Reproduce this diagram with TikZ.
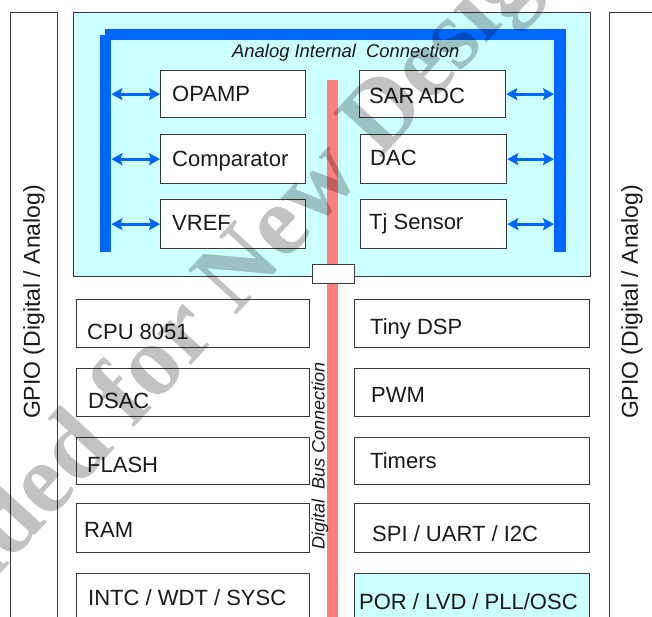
\documentclass[tikz,border=0pt]{standalone}
\usepackage{fontspec}
\setmainfont{Liberation Sans}
\newfontfamily\wmserif{Liberation Serif}
\usetikzlibrary{arrows.meta}
\definecolor{acyan}{HTML}{CCFFFF}
\definecolor{abus}{HTML}{0066FF}
\definecolor{dbus}{HTML}{FF7F7F}
\definecolor{edgec}{HTML}{3A3A3A}
\definecolor{txtc}{HTML}{1A1A1A}
\tikzset{
  box/.style={draw=edgec, line width=1.3pt, fill=white, inner sep=0pt, anchor=north west},
  cbox/.style={box, fill=acyan},
  busbar/.style={fill=abus, draw=none, inner sep=0pt, anchor=north west},
  redbar/.style={fill=dbus, draw=none, inner sep=0pt, anchor=north west},
  lbl/.style={anchor=base west, inner sep=0pt, text=txtc, font=\fontsize{22}{26}\selectfont},
  vlbl/.style={rotate=90, inner sep=0pt, text=txtc, font=\fontsize{23}{27}\selectfont},
  barrow/.style={abus, line width=3pt, {Stealth[length=11pt,width=12pt,inset=2pt]}-{Stealth[length=11pt,width=12pt,inset=2pt]}},
  wmark/.style={rotate=47.5, text=black, opacity=0.24, inner sep=0pt, font=\wmserif\bfseries\fontsize{100}{114}\selectfont}
}
\begin{document}
\begin{tikzpicture}[x=1pt,y=-1pt]
\clip (0,0) rectangle (652,617);
\fill[white] (0,0) rectangle (652,617);
% side GPIO columns
\node[box, minimum width=47pt, minimum height=640pt] (gpioL) at (10,12) {};
\node[box, minimum width=80pt, minimum height=640pt] (gpioR) at (609,12) {};
\node[vlbl] (gpioLt) at (34,302) {GPIO (Digital / Analog)};
\node[vlbl] (gpioRt) at (632,302) {GPIO (Digital / Analog)};
% analog block
\node[cbox, minimum width=517pt, minimum height=264pt] (analog) at (73,12) {};
% analog bus
\node[busbar, minimum width=11pt, minimum height=217pt] (busL) at (100,35) {};
\node[busbar, minimum width=461pt, minimum height=11pt] (busT) at (105,29) {};
\node[busbar, minimum width=12pt, minimum height=223pt] (busR) at (554,29) {};
\node[anchor=base west, inner sep=0pt, text=txtc, font=\itshape\fontsize{18.4}{22}\selectfont] (alabel) at (232,58) {Analog Internal\ \ Connection};
% digital bus
\node[redbar, minimum width=11pt, minimum height=560pt] (dbusbar) at (327,80) {};
\node[box, minimum width=42pt, minimum height=19pt] (bridge) at (312,264) {};
\node[rotate=90, inner sep=0pt, text=txtc, font=\itshape\fontsize{18}{21}\selectfont] (dlabel) at (320,456) {Digital\ \ Bus Connection};
% analog modules
\node[box, minimum width=145pt, minimum height=47pt] (opamp) at (160,70) {};
\node[box, minimum width=145pt, minimum height=49pt] (comp) at (160,134) {};
\node[box, minimum width=145pt, minimum height=49pt] (vref) at (160,199) {};
\node[box, minimum width=146pt, minimum height=47pt] (sar) at (359,70) {};
\node[box, minimum width=146pt, minimum height=49pt] (dac) at (360,134) {};
\node[box, minimum width=146pt, minimum height=49pt] (tj) at (360,199) {};
\node[lbl] at (172,102) {OPAMP};
\node[lbl] at (172,167) {Comparator};
\node[lbl] at (172,231) {VREF};
\node[lbl] at (369,104) {SAR\kern-2pt\ ADC};
\node[lbl] at (370,166) {DAC};
\node[lbl] at (369,230) {Tj Sensor};
% arrows
\draw[barrow] (busL.east |- opamp.west) -- (opamp.west);
\draw[barrow] (busL.east |- comp.west) -- (comp.west);
\draw[barrow] (busL.east |- vref.west) -- (vref.west);
\draw[barrow] (sar.east) -- (busR.west |- sar.east);
\draw[barrow] (dac.east) -- (busR.west |- dac.east);
\draw[barrow] (tj.east) -- (busR.west |- tj.east);
% digital modules left
\node[box, minimum width=233pt, minimum height=48pt] (cpu) at (76,299) {};
\node[box, minimum width=233pt, minimum height=48pt] (dsac) at (76,368) {};
\node[box, minimum width=233pt, minimum height=47pt] (flash) at (76,437) {};
\node[box, minimum width=233pt, minimum height=49pt] (ram) at (76,503) {};
\node[box, minimum width=233pt, minimum height=70pt] (intc) at (76,573) {};
\node[lbl] at (87,339) {CPU 8051};
\node[lbl] at (88,408) {DSAC};
\node[lbl] at (87,472) {FLASH};
\node[lbl] at (84,537) {RAM};
\node[lbl] at (88,605) {INTC / WDT / SYSC};
% digital modules right
\node[box, minimum width=235pt, minimum height=48pt] (dsp) at (354,299) {};
\node[box, minimum width=235pt, minimum height=48pt] (pwm) at (354,368) {};
\node[box, minimum width=235pt, minimum height=47pt] (timers) at (354,437) {};
\node[box, minimum width=235pt, minimum height=49pt] (spi) at (354,503) {};
\node[cbox, minimum width=235pt, minimum height=70pt] (por) at (354,573) {};
\node[lbl] at (370,334) {Tiny DSP};
\node[lbl] at (371,402) {PWM};
\node[lbl] at (370,468) {Timers};
\node[lbl] at (372,541) {SPI / UART / I2C};
\node[lbl] at (359,609) {POR / LVD / PLL/OSC};
% watermark
\node[wmark] (wm) at (114,414) {Recommended for New Design};
\end{tikzpicture}
\end{document}
